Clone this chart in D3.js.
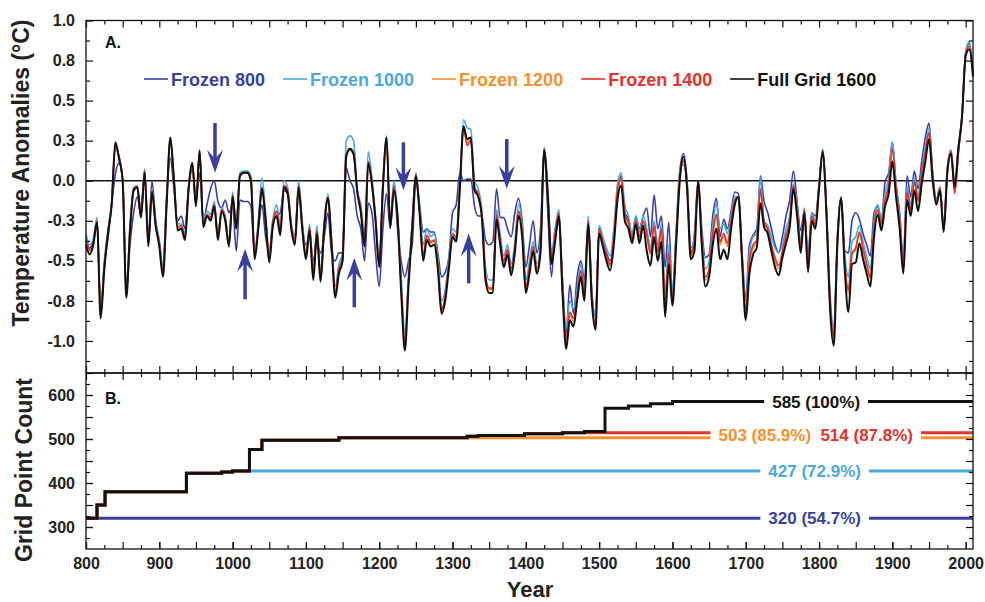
<!DOCTYPE html>
<html>
<head>
<meta charset="utf-8">
<script src="https://cdn.jsdelivr.net/npm/d3@7"></script>
<style>
  body { margin: 0; background: #fff; }
  svg { display: block; font-family: "Liberation Sans", Arial, Helvetica, sans-serif; font-weight: bold; }
</style>
</head>
<body>
<svg id="chart" width="985" height="602"></svg>
<script>
// ---- panel A: reconstructions, sampled every 5 years from 800 to 2010 ----
var years = d3.range(800, 2011, 5);

var full1600 = [
  -0.40, -0.46, -0.40, -0.26, -0.86, -0.55, -0.33, -0.15, 0.24, 0.14,
  0.00, -0.73, -0.32, -0.06, -0.04, -0.23, 0.05, -0.41, -0.07, -0.28,
  -0.41, -0.60, -0.15, 0.27, 0.00, -0.31, -0.30, -0.37, -0.05, 0.11,
  -0.16, 0.19, -0.29, -0.22, -0.25, -0.16, -0.37, -0.19, -0.25, -0.41,
  -0.10, -0.30, 0.03, 0.05, 0.05, 0.00, -0.49, -0.30, -0.05, -0.25,
  -0.51, -0.28, -0.22, -0.34, -0.04, -0.08, -0.30, -0.40, -0.04, -0.30,
  -0.49, -0.31, -0.62, -0.33, -0.63, -0.29, -0.11, -0.40, -0.73, -0.58,
  -0.50, 0.15, 0.20, 0.17, -0.07, -0.20, -0.41, 0.11, -0.02, -0.25,
  -0.54, -0.05, 0.27, -0.29, -0.06, -0.23, -0.70, -1.06, -0.65, -0.30,
  0.03, -0.20, -0.50, -0.37, -0.41, -0.40, -0.55, -0.83, -0.75, -0.55,
  -0.35, -0.38, -0.05, 0.34, 0.26, 0.27, -0.06, -0.10, -0.23, -0.62,
  -0.70, -0.70, -0.24, -0.40, -0.54, -0.46, -0.59, -0.45, -0.22, -0.35,
  -0.70, -0.58, -0.44, -0.58, -0.45, 0.19, -0.10, -0.52, -0.38, -0.22,
  -0.70, -1.05, -0.87, -0.91, -0.75, -0.60, -0.75, -0.27, -0.75, -0.93,
  -0.33, -0.41, -0.50, -0.56, -0.40, -0.12, -0.03, -0.25, -0.30, -0.39,
  -0.27, -0.39, -0.28, -0.44, -0.53, -0.35, -0.50, -0.38, -0.85, -0.52,
  -0.78, -0.40, 0.00, 0.15, -0.05, -0.49, -0.44, 0.00, -0.40, -0.66,
  -0.60, -0.40, -0.30, -0.49, -0.43, -0.49, -0.30, -0.15, -0.10, -0.50,
  -0.87, -0.58, -0.46, -0.42, -0.14, -0.29, -0.33, -0.44, -0.54, -0.59,
  -0.48, -0.39, -0.29, -0.05, -0.22, -0.45, -0.20, -0.57, -0.25, -0.30,
  -0.05, 0.18, -0.20, -0.80, -1.03, -0.40, -0.11, -0.55, -0.82, -0.52,
  -0.51, -0.39, -0.49, -0.58, -0.66, -0.35, -0.21, -0.31, -0.16, -0.08,
  0.12, -0.10, -0.30, -0.58, -0.12, -0.22, -0.06, -0.19, -0.02, 0.12,
  0.26, 0.00, -0.15, -0.06, -0.32, 0.05, 0.17, -0.04, 0.20, 0.40,
  0.78, 0.82, 0.65
];

var frozen1400 = [
  -0.37, -0.43, -0.38, -0.25, -0.83, -0.53, -0.32, -0.14, 0.22, 0.14,
  0.00, -0.71, -0.30, -0.05, -0.04, -0.22, 0.06, -0.40, -0.06, -0.27,
  -0.39, -0.57, -0.13, 0.26, 0.01, -0.29, -0.28, -0.35, -0.04, 0.11,
  -0.15, 0.18, -0.27, -0.21, -0.23, -0.15, -0.35, -0.18, -0.24, -0.40,
  -0.09, -0.29, 0.04, 0.05, 0.05, 0.01, -0.47, -0.28, -0.04, -0.23,
  -0.48, -0.26, -0.19, -0.31, -0.03, -0.06, -0.28, -0.37, -0.03, -0.28,
  -0.47, -0.29, -0.59, -0.31, -0.61, -0.27, -0.10, -0.38, -0.70, -0.55,
  -0.48, 0.16, 0.19, 0.16, -0.06, -0.18, -0.39, 0.12, -0.01, -0.24,
  -0.52, -0.03, 0.27, -0.27, -0.04, -0.22, -0.66, -1.00, -0.62, -0.28,
  0.04, -0.18, -0.46, -0.34, -0.38, -0.37, -0.52, -0.80, -0.72, -0.52,
  -0.33, -0.35, -0.03, 0.33, 0.22, 0.25, -0.04, -0.08, -0.21, -0.59,
  -0.67, -0.67, -0.21, -0.37, -0.50, -0.43, -0.55, -0.42, -0.19, -0.32,
  -0.66, -0.54, -0.41, -0.55, -0.41, 0.20, -0.08, -0.49, -0.33, -0.20,
  -0.66, -0.98, -0.82, -0.86, -0.72, -0.56, -0.71, -0.25, -0.72, -0.90,
  -0.30, -0.38, -0.46, -0.52, -0.35, -0.06, 0.02, -0.20, -0.26, -0.36,
  -0.25, -0.35, -0.25, -0.33, -0.45, -0.28, -0.44, -0.30, -0.78, -0.45,
  -0.74, -0.37, 0.03, 0.12, -0.04, -0.46, -0.38, 0.00, -0.36, -0.60,
  -0.55, -0.33, -0.21, -0.38, -0.33, -0.39, -0.25, -0.12, -0.10, -0.50,
  -0.80, -0.50, -0.40, -0.37, -0.05, -0.26, -0.30, -0.40, -0.48, -0.53,
  -0.44, -0.34, -0.25, -0.03, -0.18, -0.40, -0.18, -0.52, -0.22, -0.27,
  -0.03, 0.19, -0.18, -0.74, -0.97, -0.38, -0.10, -0.50, -0.68, -0.45,
  -0.42, -0.32, -0.42, -0.52, -0.60, -0.29, -0.18, -0.27, -0.12, -0.03,
  0.20, -0.05, -0.25, -0.55, -0.07, -0.18, 0.00, -0.12, 0.04, 0.18,
  0.30, 0.03, -0.14, -0.05, -0.31, 0.06, 0.18, -0.08, 0.17, 0.40,
  0.79, 0.84, 0.66
];

var frozen1200 = [
  -0.38, -0.44, -0.39, -0.25, -0.84, -0.54, -0.32, -0.15, 0.23, 0.14,
  0.00, -0.72, -0.31, -0.06, -0.04, -0.22, 0.05, -0.40, -0.06, -0.27,
  -0.40, -0.58, -0.14, 0.27, 0.00, -0.30, -0.29, -0.36, -0.05, 0.11,
  -0.15, 0.19, -0.28, -0.21, -0.24, -0.15, -0.36, -0.18, -0.24, -0.40,
  -0.10, -0.30, 0.03, 0.05, 0.05, 0.00, -0.48, -0.29, -0.05, -0.24,
  -0.49, -0.27, -0.20, -0.32, -0.03, -0.07, -0.29, -0.38, -0.04, -0.29,
  -0.48, -0.30, -0.60, -0.32, -0.62, -0.28, -0.10, -0.39, -0.71, -0.56,
  -0.49, 0.17, 0.20, 0.17, -0.07, -0.19, -0.40, 0.12, -0.02, -0.25,
  -0.53, -0.04, 0.27, -0.28, -0.05, -0.22, -0.68, -1.02, -0.63, -0.29,
  0.03, -0.19, -0.48, -0.35, -0.39, -0.38, -0.53, -0.81, -0.73, -0.53,
  -0.34, -0.36, -0.04, 0.34, 0.24, 0.26, -0.05, -0.09, -0.22, -0.60,
  -0.68, -0.68, -0.22, -0.38, -0.52, -0.44, -0.57, -0.43, -0.20, -0.33,
  -0.68, -0.56, -0.42, -0.57, -0.43, 0.19, -0.09, -0.50, -0.34, -0.21,
  -0.68, -1.00, -0.84, -0.88, -0.73, -0.58, -0.73, -0.26, -0.73, -0.91,
  -0.31, -0.39, -0.47, -0.53, -0.36, -0.07, 0.01, -0.21, -0.27, -0.37,
  -0.26, -0.36, -0.26, -0.34, -0.46, -0.29, -0.45, -0.31, -0.80, -0.46,
  -0.75, -0.38, 0.02, 0.13, -0.05, -0.47, -0.39, 0.00, -0.37, -0.62,
  -0.56, -0.34, -0.22, -0.40, -0.35, -0.41, -0.26, -0.13, -0.10, -0.50,
  -0.82, -0.52, -0.42, -0.38, -0.06, -0.27, -0.31, -0.41, -0.50, -0.55,
  -0.45, -0.35, -0.26, -0.04, -0.19, -0.42, -0.19, -0.54, -0.23, -0.28,
  -0.04, 0.19, -0.19, -0.76, -0.99, -0.39, -0.11, -0.52, -0.70, -0.46,
  -0.43, -0.33, -0.43, -0.54, -0.61, -0.30, -0.19, -0.28, -0.12, -0.03,
  0.20, -0.06, -0.26, -0.56, -0.08, -0.19, -0.01, -0.13, 0.03, 0.17,
  0.29, 0.02, -0.14, -0.05, -0.31, 0.06, 0.18, -0.07, 0.18, 0.40,
  0.79, 0.84, 0.66
];

var frozen1000 = [
  -0.33, -0.40, -0.36, -0.23, -0.80, -0.50, -0.30, -0.13, 0.20, 0.16,
  0.00, -0.68, -0.28, -0.04, -0.03, -0.20, 0.07, -0.38, -0.05, -0.25,
  -0.37, -0.55, -0.10, 0.27, 0.02, -0.27, -0.27, -0.33, -0.03, 0.10,
  -0.13, 0.18, -0.25, -0.19, -0.21, -0.13, -0.33, -0.17, -0.22, -0.38,
  -0.07, -0.28, 0.05, 0.06, 0.06, 0.03, -0.45, -0.25, 0.02, -0.20,
  -0.46, -0.24, -0.15, -0.28, 0.00, -0.04, -0.26, -0.34, 0.00, -0.25,
  -0.45, -0.27, -0.56, -0.28, -0.58, -0.25, -0.08, -0.36, -0.66, -0.52,
  -0.45, 0.25, 0.28, 0.25, -0.05, -0.15, -0.35, 0.18, 0.02, -0.22,
  -0.50, 0.00, 0.28, -0.25, 0.00, -0.20, -0.60, -0.95, -0.58, -0.25,
  0.05, -0.15, -0.40, -0.30, -0.35, -0.33, -0.48, -0.75, -0.68, -0.48,
  -0.30, -0.32, 0.00, 0.38, 0.33, 0.32, 0.00, -0.05, -0.18, -0.54,
  -0.62, -0.62, -0.18, -0.33, -0.47, -0.40, -0.52, -0.38, -0.15, -0.28,
  -0.62, -0.50, -0.38, -0.52, -0.38, 0.21, -0.05, -0.45, -0.30, -0.18,
  -0.62, -0.92, -0.75, -0.80, -0.68, -0.52, -0.67, -0.22, -0.68, -0.85,
  -0.28, -0.35, -0.42, -0.47, -0.30, -0.02, 0.05, -0.15, -0.22, -0.33,
  -0.22, -0.32, -0.22, -0.30, -0.42, -0.25, -0.40, -0.27, -0.70, -0.40,
  -0.68, -0.33, 0.05, 0.10, -0.02, -0.42, -0.35, 0.00, -0.33, -0.55,
  -0.50, -0.28, -0.14, -0.30, -0.27, -0.33, -0.22, -0.10, -0.10, -0.50,
  -0.75, -0.45, -0.35, -0.33, 0.02, -0.25, -0.28, -0.35, -0.42, -0.45,
  -0.40, -0.30, -0.22, -0.02, -0.15, -0.38, -0.17, -0.48, -0.20, -0.25,
  -0.02, 0.20, -0.16, -0.70, -0.92, -0.35, -0.10, -0.45, -0.60, -0.38,
  -0.35, -0.28, -0.38, -0.47, -0.55, -0.25, -0.15, -0.24, -0.08, 0.02,
  0.24, -0.02, -0.22, -0.52, -0.04, -0.15, 0.03, -0.10, 0.06, 0.22,
  0.33, 0.05, -0.13, -0.04, -0.30, 0.07, 0.19, -0.07, 0.18, 0.40,
  0.80, 0.87, 0.67
];

var frozen800 = [
  -0.35, -0.42, -0.37, -0.25, -0.80, -0.52, -0.36, -0.15, 0.04, 0.11,
  0.02, -0.70, -0.40, -0.20, -0.10, -0.22, 0.07, -0.36, 0.00, -0.25,
  -0.38, -0.55, -0.10, 0.14, -0.05, -0.25, -0.22, -0.30, -0.05, 0.08,
  -0.12, 0.05, -0.25, -0.15, -0.05, 0.00, -0.13, -0.17, -0.12, -0.20,
  -0.15, -0.44, -0.12, -0.13, -0.13, -0.16, -0.45, -0.30, -0.15, -0.35,
  -0.45, -0.25, -0.22, -0.20, -0.06, -0.08, -0.28, -0.38, -0.05, -0.28,
  -0.40, -0.35, -0.50, -0.40, -0.45, -0.35, -0.20, -0.45, -0.50, -0.45,
  -0.45, 0.08, 0.00, -0.05, -0.22, -0.30, -0.50, -0.14, -0.20, -0.45,
  -0.66, -0.30, -0.08, -0.30, -0.02, -0.30, -0.50, -0.60, -0.50, -0.40,
  0.00, -0.15, -0.32, -0.30, -0.32, -0.32, -0.45, -0.60, -0.57, -0.48,
  -0.20, -0.15, 0.05, 0.00, 0.01, 0.01, -0.16, -0.22, -0.22, -0.37,
  -0.40, -0.38, -0.05, -0.23, -0.23, -0.30, -0.35, -0.20, -0.11, -0.25,
  -0.54, -0.40, -0.25, -0.45, -0.30, 0.19, -0.20, -0.60, -0.30, -0.27,
  -0.62, -0.96, -0.65, -0.83, -0.60, -0.50, -0.62, -0.27, -0.70, -0.85,
  -0.29, -0.38, -0.45, -0.50, -0.37, -0.10, 0.03, -0.20, -0.24, -0.37,
  -0.22, -0.30, -0.22, -0.17, -0.35, -0.09, -0.30, -0.22, -0.54, -0.26,
  -0.73, -0.32, 0.06, 0.17, 0.00, -0.45, -0.33, 0.00, -0.30, -0.48,
  -0.46, -0.22, -0.11, -0.35, -0.24, -0.30, -0.19, -0.07, -0.08, -0.45,
  -0.73, -0.40, -0.34, -0.30, 0.03, -0.13, -0.20, -0.30, -0.40, -0.45,
  -0.35, -0.22, -0.12, 0.06, -0.13, -0.31, -0.19, -0.47, -0.20, -0.22,
  -0.02, 0.19, -0.18, -0.75, -0.97, -0.35, -0.11, -0.44, -0.45, -0.25,
  -0.20, -0.24, -0.33, -0.40, -0.47, -0.20, -0.16, -0.25, -0.01, 0.05,
  0.24, -0.02, -0.20, -0.50, 0.03, -0.10, 0.06, -0.05, 0.12, 0.27,
  0.36, 0.05, -0.12, -0.04, -0.28, 0.08, 0.19, -0.03, 0.21, 0.40,
  0.80, 0.86, 0.66
];

// ---- panel B: grid point counts (step changes) ----
var stepYears = [800, 815, 826, 937, 985, 1000, 1023, 1040, 1145, 1320, 1335, 1398, 1450, 1480, 1508, 1540, 1570, 1600, 2010];
var countFull = [320, 350, 380, 422, 425, 427, 476, 497, 503, 506, 508, 512, 514, 517, 570, 575, 580, 585, 585];
var count1400 = [320, 350, 380, 422, 425, 427, 476, 497, 503, 506, 508, 512, 514, 514, 514, 514, 514, 514, 514];
var count1200 = [320, 350, 380, 422, 425, 427, 476, 497, 503, 503, 503, 503, 503, 503, 503, 503, 503, 503, 503];
var count1000 = [320, 350, 380, 422, 425, 427, 427, 427, 427, 427, 427, 427, 427, 427, 427, 427, 427, 427, 427];
var count800 = [320, 320, 320, 320, 320, 320, 320, 320, 320, 320, 320, 320, 320, 320, 320, 320, 320, 320, 320];
var countLabels = ["320 (54.7%)", "427 (72.9%)", "503 (85.9%)", "514 (87.8%)", "585 (100%)"];

var seriesNames = ["Frozen 800", "Frozen 1000", "Frozen 1200", "Frozen 1400", "Full Grid 1600"];

// axis ticks and labels
var tempTicks = [-1.0, -0.75, -0.5, -0.25, 0, 0.25, 0.5, 0.75, 1.0];
var tempTickLabels = ["-1.0", "-0.8", "-0.5", "-0.3", "0.0", "0.3", "0.5", "0.8", "1.0"];
var countTicks = [300, 400, 500, 600];
var yearTicks = [800, 900, 1000, 1100, 1200, 1300, 1400, 1500, 1600, 1700, 1800, 1900, 2000];

// ---- drawing ----
var colors = ["#3a3f9f", "#4ba7dc", "#f5922b", "#e5322c", "#111111"];
var tempData = [frozen800, frozen1000, frozen1200, frozen1400, full1600];
var countData = [count800, count1000, count1200, count1400, countFull];

var left = 86, right = 973, topA = 20.5, midY = 373, bottomB = 549;
var svg = d3.select("#chart");

var x = d3.scaleLinear().domain([800, 2010]).range([left, right]);
var yA = d3.scaleLinear().domain([-1.2, 1.0]).range([midY, topA]);
var yB = d3.scaleLinear().domain([250, 650]).range([bottomB, midY]);

// zero line
svg.append("line")
    .attr("x1", left).attr("x2", right)
    .attr("y1", yA(0)).attr("y2", yA(0))
    .attr("stroke", "#111").attr("stroke-width", 1.5);

var tempLine = d3.line()
    .x(function (d, i) { return x(years[i]); })
    .y(function (d) { return yA(d); })
    .curve(d3.curveMonotoneX);

tempData.forEach(function (vals, k) {
    svg.append("path")
        .attr("d", tempLine(vals))
        .attr("fill", "none")
        .attr("stroke", colors[k])
        .attr("stroke-width", k === 4 ? 2 : 1.6)
        .attr("stroke-linejoin", "round");
});

// arrows (annotation, in data coordinates)
var arrows = [
    {year: 976, tip: 0.05, tail: 0.36},
    {year: 1233, tip: -0.06, tail: 0.24},
    {year: 1374, tip: -0.05, tail: 0.26},
    {year: 1017, tip: -0.425, tail: -0.74},
    {year: 1166, tip: -0.48, tail: -0.79},
    {year: 1322, tip: -0.33, tail: -0.64}
];
arrows.forEach(function (a) {
    var tx = x(a.year), ty = yA(a.tip), by = yA(a.tail);
    var dir = by < ty ? -1 : 1; // -1: pointing down
    svg.append("line")
        .attr("x1", tx).attr("x2", tx)
        .attr("y1", by).attr("y2", ty + dir * 12)
        .attr("stroke", colors[0]).attr("stroke-width", 3.5);
    svg.append("path")
        .attr("d", "M" + tx + "," + ty +
            "L" + (tx - 8) + "," + (ty + dir * 23) +
            "L" + tx + "," + (ty + dir * 14) +
            "L" + (tx + 8) + "," + (ty + dir * 23) + "Z")
        .attr("fill", colors[0]);
});

// panel B step lines
var stepLine = d3.line()
    .x(function (d, i) { return x(stepYears[i]); })
    .y(function (d) { return yB(d); })
    .curve(d3.curveStepAfter);

countData.forEach(function (vals, k) {
    svg.append("path")
        .attr("d", stepLine(vals))
        .attr("fill", "none")
        .attr("stroke", colors[k])
        .attr("stroke-width", 3);
});

// labels on the count lines, with white boxes
var labelSpots = [
    {k: 0, year: 1794, value: 320},
    {k: 1, year: 1794, value: 427},
    {k: 2, year: 1726, value: 508.5},
    {k: 3, year: 1865, value: 508.5},
    {k: 4, year: 1796, value: 585}
];
labelSpots.forEach(function (s) {
    var g = svg.append("g");
    var box = g.append("rect").attr("fill", "#fff");
    var t = g.append("text")
        .attr("x", x(s.year)).attr("y", yB(s.value))
        .attr("dy", "0.36em")
        .attr("text-anchor", "middle")
        .attr("font-size", 17)
        .attr("fill", colors[s.k])
        .text(countLabels[s.k]);
    var bb = t.node().getBBox();
    box.attr("x", bb.x - 8).attr("y", yB(s.value) - 9)
        .attr("width", bb.width + 16).attr("height", 18);
});

// frames
[[topA, midY], [midY, bottomB]].forEach(function (p) {
    svg.append("rect")
        .attr("x", left).attr("y", p[0])
        .attr("width", right - left).attr("height", p[1] - p[0])
        .attr("fill", "none").attr("stroke", "#111").attr("stroke-width", 1.3);
});

// ticks, all pointing inward
function tickSet(axisFn, scale, vals, size, pos, labels, pad) {
    var axis = axisFn(scale).tickValues(vals).tickSize(size).tickPadding(pad || 0)
        .tickFormat(function (d, i) { return labels ? labels[i] : ""; });
    var g = svg.append("g").attr("transform", pos).call(axis);
    g.select(".domain").remove();
    g.attr("font-size", 16).attr("font-family", null);
    g.selectAll("line").attr("stroke", "#111").attr("stroke-width", 1.2);
    g.selectAll("text").attr("fill", "#222");
    return g;
}

var x50 = d3.range(800, 2001, 50), x25 = d3.range(825, 2001, 50);
[["top", topA], ["bottom", midY], ["top", midY], ["bottom", bottomB]].forEach(function (e) {
    var fn = e[0] === "top" ? d3.axisTop : d3.axisBottom;
    tickSet(fn, x, x50, -7, "translate(0," + e[1] + ")");
    tickSet(fn, x, x25, -4, "translate(0," + e[1] + ")");
});
tickSet(d3.axisBottom, x, yearTicks, -7, "translate(0," + bottomB + ")",
    yearTicks.map(String), 9);

var a125 = d3.range(-1.125, 1.0, 0.25);
tickSet(d3.axisLeft, yA, tempTicks, -7, "translate(" + left + ",0)", tempTickLabels, 11);
tickSet(d3.axisLeft, yA, a125, -4, "translate(" + left + ",0)");
tickSet(d3.axisRight, yA, tempTicks, -7, "translate(" + right + ",0)");
tickSet(d3.axisRight, yA, a125, -4, "translate(" + right + ",0)");

var b50 = d3.range(300, 651, 50), b25 = d3.range(275, 650, 50);
tickSet(d3.axisLeft, yB, b50, -7, "translate(" + left + ",0)");
tickSet(d3.axisLeft, yB, countTicks, -7, "translate(" + left + ",0)", countTicks.map(String), 11);
tickSet(d3.axisLeft, yB, b25, -4, "translate(" + left + ",0)");
tickSet(d3.axisRight, yB, b50, -7, "translate(" + right + ",0)");
tickSet(d3.axisRight, yB, b25, -4, "translate(" + right + ",0)");

// legend
var lx = 144;
seriesNames.forEach(function (name, k) {
    svg.append("line")
        .attr("x1", lx).attr("x2", lx + 24)
        .attr("y1", 79).attr("y2", 79)
        .attr("stroke", colors[k]).attr("stroke-width", 1.6);
    var t = svg.append("text")
        .attr("x", lx + 27).attr("y", 85.5)
        .attr("font-size", 18)
        .attr("fill", colors[k])
        .text(name);
    lx += 27 + t.node().getComputedTextLength() + 18;
});

// panel letters and titles
svg.append("text").attr("x", 105).attr("y", 48).attr("font-size", 16).attr("fill", "#111").text("A.");
svg.append("text").attr("x", 105).attr("y", 404).attr("font-size", 16).attr("fill", "#111").text("B.");

svg.append("text")
    .attr("transform", "translate(28.5,173) rotate(-90)")
    .attr("text-anchor", "middle")
    .attr("font-size", 23)
    .attr("fill", "#222")
    .text("Temperature Anomalies (°C)");

svg.append("text")
    .attr("transform", "translate(32,470) rotate(-90)")
    .attr("text-anchor", "middle")
    .attr("font-size", 23)
    .attr("fill", "#222")
    .text("Grid Point Count");

svg.append("text")
    .attr("x", 530).attr("y", 597)
    .attr("text-anchor", "middle")
    .attr("font-size", 22)
    .attr("fill", "#222")
    .text("Year");
</script>
</body>
</html>
